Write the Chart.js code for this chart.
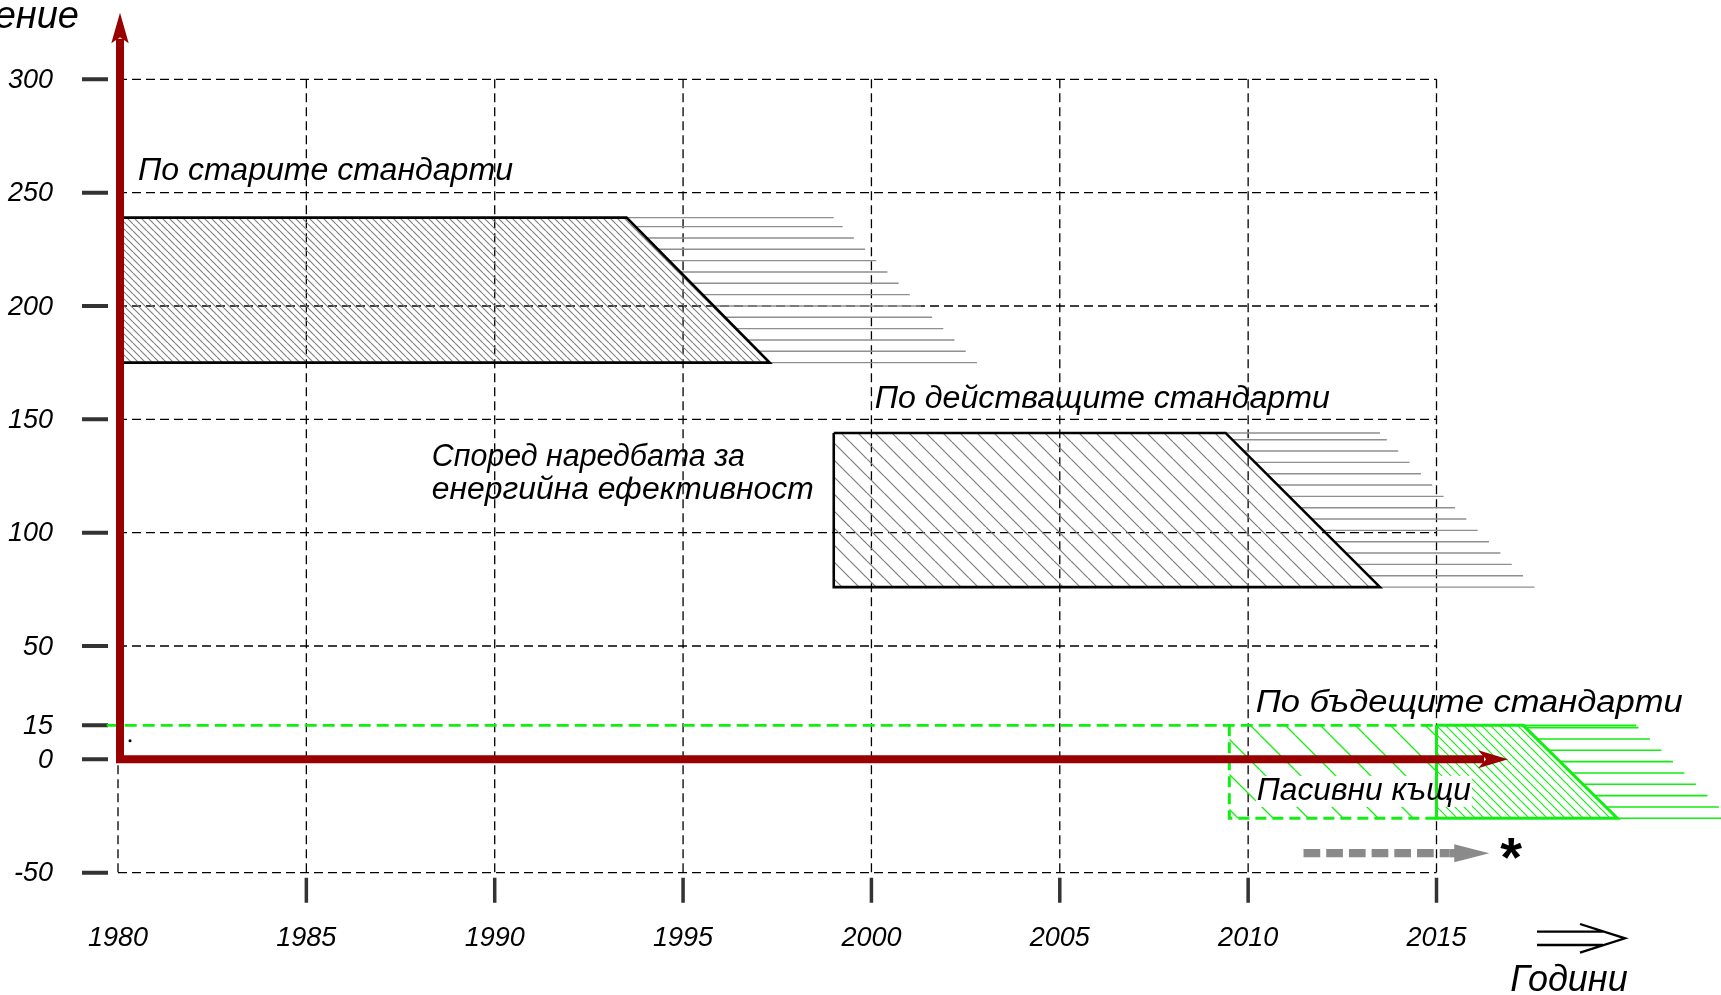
<!DOCTYPE html>
<html>
<head>
<meta charset="utf-8">
<script src="https://cdn.jsdelivr.net/npm/chart.js@4.4.1/dist/chart.umd.min.js"></script>
<style>
html, body { margin: 0; padding: 0; background: #fff; }
#wrap { width: 1721px; height: 995px; }
</style>
</head>
<body>
<div id="wrap"><canvas id="chart"></canvas></div>
<script>
const years = [1980, 1985, 1990, 1995, 2000, 2005, 2010, 2015];
const yTicks = [-50, 0, 15, 50, 100, 150, 200, 250, 300];
const gridLevels = [-50, 0, 50, 100, 150, 200, 250, 300];

// bands: x = [left, top-right corner, bottom-right corner], y = [top, bottom]
const oldX = [1980, 1993.5, 1997.3];
const oldY = [239, 175];
const curX = [1999, 2009.4, 2013.5];
const curY = [144, 76];
const futX = [2015, 2017.3, 2019.8];
const futY = [15, -26];
const passiveX = [2009.5, 2015];
const passiveLevel = 15;
const rakeYears = [5.5, 4.1, 3.0];

const notes = [
  { text: 'По старите стандарти', x: 1980.53, y: 255.6, w: 375 },
  { text: 'По действащите стандарти', x: 2000.09, y: 155.2, w: 455 },
  { text: 'Според наредбата за', x: 1988.33, y: 129.5, w: 313 },
  { text: 'енергийна ефективност', x: 1988.33, y: 115, w: 382 },
  { text: 'По бъдещите стандарти', x: 2010.2, y: 21.0, w: 427 },
  { text: 'Пасивни къщи', x: 2010.23, y: -17.9, w: 214, box: true }
];

// page layout: where 1980/2015 and -50/300 land on the 1721x995 canvas
const W = 1721, H = 995;
const X0 = 118, X1 = 1436.5, Y0 = 872.7, Y1 = 79.3;
const pxYear = (X1 - X0) / 35, pxUnit = (Y0 - Y1) / 350;

const RED = '#990000', GREEN = '#11ee11';

function hatch(step, color, width) {
  const c = document.createElement('canvas');
  c.width = c.height = step;
  const g = c.getContext('2d');
  g.strokeStyle = color;
  g.lineWidth = width;
  g.beginPath();
  for (const k of [-1, 0, 1]) { g.moveTo(k * step, 0); g.lineTo(k * step + step, step); }
  g.stroke();
  return g.createPattern(c, 'repeat');
}

const band = (x, y) => [{ x: x[0], y: y[0] }, { x: x[1], y: y[0] }, { x: x[2], y: y[1] }];
const frame = (x, y) => [
  { x: x[0], y: y[0] }, { x: x[1], y: y[0] }, { x: x[2], y: y[1] },
  { x: x[0], y: y[1] }, { x: x[0], y: y[0] }
];
function rake(x, y, len) {
  const slant = v => x[1] + (x[2] - x[1]) * (y[0] - v) / (y[0] - y[1]);
  const levels = [];
  for (let v = y[1]; v < y[0] - 0.5; v += 5) levels.push(v);
  levels.push(y[0]);
  const pts = [];
  levels.forEach(v => {
    const s = slant(v);
    pts.push({ x: s, y: v }, { x: s + len, y: v }, { x: NaN, y: NaN });
  });
  return pts;
}

const fillSet = (label, data, bottom, pattern, order) => ({
  label, data, order, fill: { value: bottom }, backgroundColor: pattern,
  borderColor: 'transparent', borderWidth: 0, clip: false
});
const lineSet = (label, data, color, width, order, dash) => ({
  label, data, order, fill: false, borderColor: color, borderWidth: width,
  borderDash: dash || [], spanGaps: false, clip: false, borderJoinStyle: 'miter'
});

const datasets = [
  fillSet('old-hatch', band(oldX, oldY), oldY[1], hatch(7, '#7d7d7d', 1.1), 20),
  fillSet('cur-hatch', band(curX, curY), curY[1], hatch(17, '#7d7d7d', 1.2), 19),
  fillSet('passive-hatch', [{ x: passiveX[0], y: passiveLevel }, { x: passiveX[1], y: passiveLevel }], futY[1], hatch(35, GREEN, 1.3), 18),
  fillSet('fut-hatch', band(futX, futY), futY[1], hatch(9, GREEN, 1.2), 17),
  lineSet('old-rake', rake(oldX, oldY, rakeYears[0]), '#8f8f8f', 1.4, 16),
  lineSet('cur-rake', rake(curX, curY, rakeYears[1]), '#8f8f8f', 1.4, 15),
  lineSet('fut-rake', rake(futX, futY, rakeYears[2]), GREEN, 1.6, 14),
  lineSet('level', [{ x: 1979.7, y: passiveLevel }, { x: passiveX[1], y: passiveLevel }], GREEN, 2.6, 13, [12, 6]),
  lineSet('passive-frame', [{ x: passiveX[0], y: passiveLevel }, { x: passiveX[0], y: futY[1] }, { x: passiveX[1], y: futY[1] }], GREEN, 3, 12, [11, 6]),
  lineSet('old-frame', frame(oldX, oldY), '#000', 2.6, 11),
  lineSet('cur-frame', frame(curX, curY), '#000', 2.6, 10),
  lineSet('fut-frame', frame(futX, futY), GREEN, 3, 9)
];

const FONT = '"Liberation Sans", Arial, sans-serif';

function drawNote(ctx, n, x, y) {
  ctx.font = 'italic 31px ' + FONT;
  const w = ctx.measureText(n.text).width;
  ctx.save();
  ctx.translate(x.getPixelForValue(n.x), y.getPixelForValue(n.y));
  ctx.scale(n.w / w, 1);
  ctx.fillStyle = '#000';
  ctx.textBaseline = 'alphabetic';
  ctx.fillText(n.text, 0, 0);
  ctx.restore();
}

function arrowHead(ctx, tipX, tipY, dir, len, half, notch) {
  ctx.beginPath();
  if (dir === 'up') {
    ctx.moveTo(tipX, tipY);
    ctx.lineTo(tipX - half, tipY + len);
    ctx.lineTo(tipX, tipY + len - notch);
    ctx.lineTo(tipX + half, tipY + len);
  } else {
    ctx.moveTo(tipX, tipY);
    ctx.lineTo(tipX - len, tipY - half);
    ctx.lineTo(tipX - len + notch, tipY);
    ctx.lineTo(tipX - len, tipY + half);
  }
  ctx.closePath();
  ctx.fill();
}

const decor = {
  id: 'decor',
  beforeDatasetsDraw(chart) {
    const { ctx, scales: { x, y } } = chart;
    const xl = x.getPixelForValue(years[0]), xr = x.getPixelForValue(years[years.length - 1]);
    const yt = y.getPixelForValue(300), yb = y.getPixelForValue(-50);
    ctx.save();
    ctx.strokeStyle = '#000';
    ctx.lineWidth = 1.3;
    ctx.setLineDash([9, 5]);
    ctx.beginPath();
    gridLevels.forEach(v => { const py = y.getPixelForValue(v); ctx.moveTo(xl, py); ctx.lineTo(xr, py); });
    years.forEach(v => { const px = x.getPixelForValue(v); ctx.moveTo(px, yt); ctx.lineTo(px, yb); });
    ctx.stroke();
    ctx.setLineDash([]);

    // tick marks
    ctx.strokeStyle = '#333';
    ctx.lineWidth = 4;
    ctx.beginPath();
    yTicks.forEach(v => { const py = y.getPixelForValue(v); ctx.moveTo(xl - 36, py); ctx.lineTo(xl - 10, py); });
    ctx.stroke();
    ctx.lineWidth = 3.5;
    ctx.beginPath();
    years.slice(1).forEach(v => { const px = x.getPixelForValue(v); ctx.moveTo(px, yb + 5); ctx.lineTo(px, yb + 30); });
    ctx.stroke();

    // tick labels
    ctx.fillStyle = '#000';
    ctx.font = 'italic 27px ' + FONT;
    ctx.textBaseline = 'middle';
    ctx.textAlign = 'right';
    yTicks.forEach(v => ctx.fillText(String(v), xl - 65, y.getPixelForValue(v) + 1));
    ctx.textAlign = 'center';
    years.forEach(v => ctx.fillText(String(v), x.getPixelForValue(v), yb + 66));

    // small stray dot
    ctx.beginPath();
    ctx.arc(xl + 12, y.getPixelForValue(0) - 18.5, 1.5, 0, Math.PI * 2);
    ctx.fill();
    ctx.restore();
  },
  afterDatasetDraw(chart, args) {
    if (chart.data.datasets[args.index].label !== 'fut-hatch') return;
    const { ctx, scales: { x, y } } = chart;
    notes.filter(n => n.box).forEach(n => {
      const px = x.getPixelForValue(n.x), py = y.getPixelForValue(n.y);
      ctx.save();
      ctx.fillStyle = '#fff';
      ctx.fillRect(px - 1, py - 24, n.w + 2, 31);
      ctx.restore();
    });
  },
  afterDatasetsDraw(chart) {
    const { ctx, scales: { x, y } } = chart;
    const ax = x.getPixelForValue(years[0]) + 2, ay = y.getPixelForValue(0);
    ctx.save();

    // red axes
    ctx.strokeStyle = RED;
    ctx.fillStyle = RED;
    ctx.lineWidth = 8;
    ctx.beginPath();
    ctx.moveTo(ax, ay + 4);
    ctx.lineTo(ax, y.getPixelForValue(329.4) + 26);
    ctx.moveTo(ax - 4, ay);
    ctx.lineTo(x.getPixelForValue(2016.9) - 24, ay);
    ctx.stroke();
    arrowHead(ctx, ax, y.getPixelForValue(329.4), 'up', 30.5, 8.7, 6);
    arrowHead(ctx, x.getPixelForValue(2016.9), ay, 'right', 30, 9, 8);

    // grey dashed arrow
    const gy = y.getPixelForValue(-41.4);
    const g0 = x.getPixelForValue(2011.47), g1 = x.getPixelForValue(2016.4);
    ctx.strokeStyle = '#8a8a8a';
    ctx.fillStyle = '#8a8a8a';
    ctx.lineWidth = 8.3;
    ctx.setLineDash([16.7, 6]);
    ctx.beginPath();
    ctx.moveTo(g0, gy);
    ctx.lineTo(g1 - 40, gy);
    ctx.stroke();
    ctx.setLineDash([]);
    ctx.beginPath();
    ctx.moveTo(g1 - 40, gy);
    ctx.lineTo(g1 - 34, gy);
    ctx.stroke();
    ctx.beginPath();
    ctx.moveTo(g1, gy);
    ctx.lineTo(g1 - 35, gy - 9);
    ctx.lineTo(g1 - 35, gy + 9);
    ctx.closePath();
    ctx.fill();

    ctx.fillStyle = '#000';
    ctx.font = 'bold 56px ' + FONT;
    ctx.textBaseline = 'alphabetic';
    ctx.textAlign = 'left';
    ctx.fillText('*', g1 + 11, gy + 23);

    // annotations
    notes.forEach(n => drawNote(ctx, n, x, y));

    // axis captions
    ctx.fillStyle = '#000';
    ctx.font = 'italic 38px ' + FONT;
    ctx.textAlign = 'right';
    ctx.fillText('Потребление', 79, 28);
    ctx.font = 'italic 36px ' + FONT;
    ctx.textAlign = 'center';
    ctx.fillText('Години', 1569, 991);

    // double arrow next to the years
    ctx.strokeStyle = '#000';
    ctx.lineWidth = 2.3;
    ctx.beginPath();
    ctx.moveTo(1537, 931.7); ctx.lineTo(1603, 931.7);
    ctx.moveTo(1537, 945); ctx.lineTo(1603, 945);
    ctx.moveTo(1580, 924); ctx.lineTo(1625, 938.3); ctx.lineTo(1580, 952.7);
    ctx.stroke();
    ctx.restore();
  }
};

new Chart(document.getElementById('chart'), {
  type: 'line',
  data: { datasets },
  options: {
    responsive: true,
    maintainAspectRatio: false,
    animation: false,
    events: [],
    layout: { padding: 0 },
    elements: { point: { radius: 0 }, line: { tension: 0 } },
    plugins: { legend: { display: false }, tooltip: { enabled: false }, title: { display: false } },
    scales: {
      x: { type: 'linear', display: false, min: 1980 - X0 / pxYear, max: 2015 + (W - X1) / pxYear },
      y: { type: 'linear', display: false, min: -50 - (H - Y0) / pxUnit, max: 300 + Y1 / pxUnit }
    }
  },
  plugins: [decor]
});
</script>
</body>
</html>
